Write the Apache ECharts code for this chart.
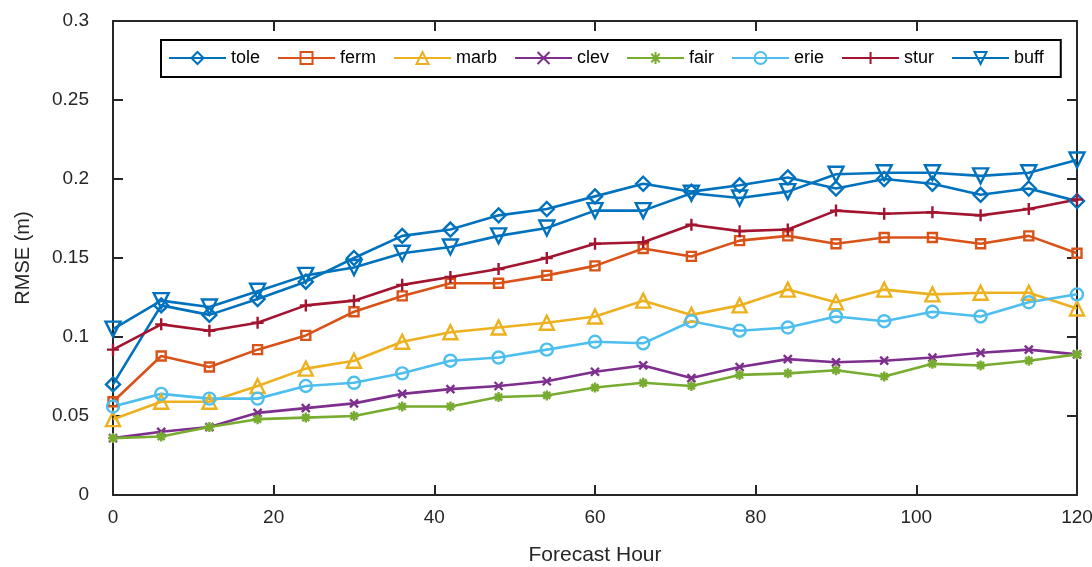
<!DOCTYPE html>
<html>
<head>
<meta charset="utf-8">
<script src="https://cdn.jsdelivr.net/npm/echarts@6/dist/echarts.min.js"></script>
<style>
  html, body { margin: 0; padding: 0; background: #fff; }
  #chart { width: 1092px; height: 567px; }
</style>
</head>
<body>
<div id="chart"></div>
<script>
// Forecast hours (x values)
const hours = [0, 6, 12, 18, 24, 30, 36, 42, 48, 54, 60, 66, 72, 78, 84, 90, 96, 102, 108, 114, 120];

// RMSE (m) per station
const tole = [0.070, 0.120, 0.114, 0.124, 0.135, 0.150, 0.164, 0.168, 0.177, 0.181, 0.189, 0.197, 0.192, 0.196, 0.201, 0.194, 0.200, 0.197, 0.190, 0.194, 0.186];
const ferm = [0.059, 0.088, 0.081, 0.092, 0.101, 0.116, 0.126, 0.134, 0.134, 0.139, 0.145, 0.156, 0.151, 0.161, 0.164, 0.159, 0.163, 0.163, 0.159, 0.164, 0.153];
const marb = [0.048, 0.059, 0.059, 0.069, 0.080, 0.085, 0.097, 0.103, 0.106, 0.109, 0.113, 0.123, 0.114, 0.120, 0.130, 0.122, 0.130, 0.127, 0.128, 0.128, 0.118];
const clev = [0.036, 0.040, 0.043, 0.052, 0.055, 0.058, 0.064, 0.067, 0.069, 0.072, 0.078, 0.082, 0.074, 0.081, 0.086, 0.084, 0.085, 0.087, 0.090, 0.092, 0.089];
const fair = [0.036, 0.037, 0.043, 0.048, 0.049, 0.050, 0.056, 0.056, 0.062, 0.063, 0.068, 0.071, 0.069, 0.076, 0.077, 0.079, 0.075, 0.083, 0.082, 0.085, 0.089];
const erie = [0.056, 0.064, 0.061, 0.061, 0.069, 0.071, 0.077, 0.085, 0.087, 0.092, 0.097, 0.096, 0.110, 0.104, 0.106, 0.113, 0.110, 0.116, 0.113, 0.122, 0.127];
const stur = [0.092, 0.108, 0.104, 0.109, 0.120, 0.123, 0.133, 0.138, 0.143, 0.150, 0.159, 0.160, 0.171, 0.167, 0.168, 0.180, 0.178, 0.179, 0.177, 0.181, 0.187];
const buff = [0.105, 0.123, 0.119, 0.129, 0.139, 0.144, 0.153, 0.157, 0.164, 0.169, 0.180, 0.180, 0.191, 0.188, 0.192, 0.203, 0.204, 0.204, 0.202, 0.204, 0.212];

// Axis ticks
const xTicks = [0, 20, 40, 60, 80, 100, 120];
const yTicks = [0, 0.05, 0.1, 0.15, 0.2, 0.25, 0.3];

const FONT = 'Liberation Sans, Arial, Helvetica, sans-serif';
const AXIS_COLOR = '#262626';

// Marker shapes
const SYM_X = 'path://M0,0L10,10M10,0L0,10';
const SYM_PLUS = 'path://M5,0L5,10M0,5L10,5';
const SYM_STAR = 'path://M5,0L5,10M0,5L10,5M1.5,1.5L8.5,8.5M8.5,1.5L1.5,8.5';

const stations = [
  { name: 'tole', values: tole, color: '#0072BD', symbol: 'diamond', size: 14, rotate: 0 },
  { name: 'ferm', values: ferm, color: '#D95319', symbol: 'rect', size: 9, rotate: 0 },
  { name: 'marb', values: marb, color: '#EDB120', symbol: 'triangle', size: 14, rotate: 0 },
  { name: 'clev', values: clev, color: '#7E2F8E', symbol: SYM_X, size: 8, rotate: 0 },
  { name: 'fair', values: fair, color: '#77AC30', symbol: SYM_STAR, size: 10, rotate: 0 },
  { name: 'erie', values: erie, color: '#4DBEEE', symbol: 'circle', size: 12, rotate: 0 },
  { name: 'stur', values: stur, color: '#A2142F', symbol: SYM_PLUS, size: 12, rotate: 0 },
  { name: 'buff', values: buff, color: '#0072BD', symbol: 'triangle', size: 15, rotate: 180 }
];

const series = stations.map(s => ({
  name: s.name,
  type: 'line',
  xAxisIndex: 0,
  yAxisIndex: 0,
  data: hours.map((h, i) => [h, s.values[i]]),
  symbol: s.symbol,
  symbolSize: s.size,
  symbolRotate: s.rotate,
  showAllSymbol: true,
  lineStyle: { color: s.color, width: 2.6 },
  itemStyle: { color: 'rgba(255,255,255,0)', borderColor: s.color, borderWidth: 2.4 },
  emphasis: { disabled: true },
  animation: false
}));

function boxAxis(opts) {
  return Object.assign({
    type: 'value',
    axisLine: { show: true, onZero: false, lineStyle: { color: AXIS_COLOR, width: 2 } },
    axisTick: { show: true, inside: true, length: 10, lineStyle: { color: AXIS_COLOR, width: 2 } },
    splitLine: { show: false }
  }, opts);
}

const chart = echarts.init(document.getElementById('chart'), null, { renderer: 'canvas' });
chart.setOption({
  animation: false,
  backgroundColor: '#fff',
  textStyle: { fontFamily: FONT },
  grid: { left: 113, right: 15, top: 21, bottom: 72, containLabel: false, outerBoundsMode: 'none' },
  legend: {
    data: stations.map(s => s.name),
    left: 161,
    top: 40,
    orient: 'horizontal',
    itemWidth: 57,
    itemHeight: 15,
    itemGap: 17,
    padding: [9, 17, 10, 7],
    borderColor: '#000',
    borderWidth: 2,
    backgroundColor: '#fff',
    textStyle: { fontSize: 18, color: '#000', fontFamily: FONT }
  },
  xAxis: [
    boxAxis({
      position: 'bottom',
      min: xTicks[0], max: xTicks[xTicks.length - 1], interval: xTicks[1] - xTicks[0],
      name: 'Forecast Hour', nameLocation: 'middle', nameGap: 50,
      nameTextStyle: { fontSize: 21, color: AXIS_COLOR, fontFamily: FONT },
      axisLabel: { show: true, margin: 13, fontSize: 19, color: AXIS_COLOR, fontFamily: FONT }
    }),
    boxAxis({
      position: 'top',
      min: xTicks[0], max: xTicks[xTicks.length - 1], interval: xTicks[1] - xTicks[0],
      axisLabel: { show: false }
    })
  ],
  yAxis: [
    boxAxis({
      position: 'left',
      min: yTicks[0], max: yTicks[yTicks.length - 1], interval: yTicks[1] - yTicks[0],
      name: 'RMSE (m)', nameLocation: 'middle', nameGap: 80, nameRotate: 90,
      nameTextStyle: { fontSize: 20, color: AXIS_COLOR, fontFamily: FONT },
      axisLabel: { show: true, margin: 24, fontSize: 19, color: AXIS_COLOR, fontFamily: FONT,
        padding: [0, 0, 10, 0],
        formatter: v => { const t = yTicks.find(y => Math.abs(y - v) < 1e-9); return String(t); } }
    }),
    boxAxis({
      position: 'right',
      min: yTicks[0], max: yTicks[yTicks.length - 1], interval: yTicks[1] - yTicks[0],
      axisLabel: { show: false }
    })
  ],
  series: series
});
</script>
</body>
</html>
